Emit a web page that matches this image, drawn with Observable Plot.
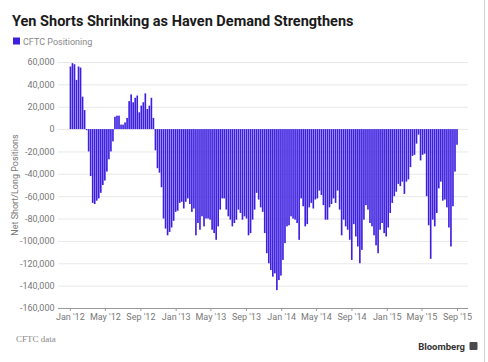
<!DOCTYPE html>
<html><head><meta charset="utf-8">
<script src="https://cdn.jsdelivr.net/npm/d3@7"></script>
<script src="https://cdn.jsdelivr.net/npm/@observablehq/plot@0.6"></script>
<style>
body{margin:0;background:#fff;}
#chart{position:relative;width:488px;height:362px;overflow:hidden;}
</style></head><body><div id="chart"></div>
<script>
// Weekly CFTC net yen positioning (thousands of contracts), first week 2012-01-03
const firstWeek = "2012-01-03";
const positions = [
  56, 59, 58, 44, 56, 55, 29, 17, -1, -20, -42, -66, -67, -64, -62, -57, -50, -46, -38, -27, -20, -11,
  11, 12, 12, 4, 4, 6, 10, 25, 31, 24, 28, 30, 15, 21, 24, 32, 18, 21, 28, 10,
  -19, -35, -39, -52, -80, -89, -95, -92, -88, -82, -74, -73, -66, -65, -71, -65, -62, -67, -74, -71, -95, -84,
  -90, -78, -87, -80, -80, -81, -90, -93, -99, -87, -72, -62, -62, -72, -78, -81, -87, -84, -81, -72, -75, -81, -78, -80, -95, -93, -81, -72, -57, -63, -70,
  -74, -93, -111, -120, -126, -132, -129, -144, -135, -131, -117, -102, -87, -86, -78, -80, -81, -84, -99, -62, -69, -87, -85, -70, -66, -71, -63, -62, -55, -59, -68, -81,
  -81, -70, -67, -62, -66, -55, -72, -95, -81, -87, -90, -99, -117, -85, -96, -105, -120, -108, -81, -68, -72, -84, -87, -95, -104, -111, -90, -84, -93, -96, -88, -75, -66,
  -60, -56, -49, -51, -47, -58, -47, -45, -34, -24, -23, -13, -5, -28, -23, -22, -60, -86, -116, -81, -87, -75, -53, -47, -64, -63, -70, -88, -105, -69, -38, -14
];
const yTicks = [60000, 40000, 20000, 0, -20000, -40000, -60000, -80000, -100000, -120000, -140000, -160000];
const xTicks = ["2012-01-01","2012-05-01","2012-09-01","2013-01-01","2013-05-01","2013-09-01",
                "2014-01-01","2014-05-01","2014-09-01","2015-01-01","2015-05-01","2015-09-01"];
const titleText = "Yen Shorts Shrinking as Haven Demand Strengthens";
const legendText = "CFTC Positioning";
const yLabel = "Net Short/Long Positions";
const sourceText = "CFTC data";
const brandText = "Bloomberg";

const barColor = "#3d1fe0";
const start = new Date(firstWeek + "T00:00:00Z");
const data = positions.map((v, i) => ({date: d3.utcDay.offset(start, 7 * i), value: v * 1000}));
const xTickDates = xTicks.map(s => new Date(s + "T00:00:00Z"));

const chart = Plot.plot({
  width: 488, height: 362,
  marginLeft: 58, marginRight: 20, marginTop: 62, marginBottom: 54,
  x: {type: "utc", domain: [new Date("2011-11-21T00:00:00Z"), new Date("2015-10-09T00:00:00Z")]},
  y: {domain: [-160000, 60000]},
  style: {fontFamily: "Roboto, 'Liberation Sans', sans-serif", fontSize: "9px", color: "#777", background: "#fff"},
  marks: [
    Plot.gridY(yTicks, {stroke: "#e8e8e8", strokeOpacity: 1}),
    Plot.rectY(data, {
      x1: d => d3.utcHour.offset(d.date, -68),
      x2: d => d3.utcHour.offset(d.date, 68),
      y: "value", fill: barColor, shapeRendering: "geometricPrecision"
    }),
    Plot.ruleY([-160000], {stroke: "#999"}),
    Plot.axisY(yTicks, {tickSize: 0, tickPadding: 4, tickFormat: d => d.toLocaleString("en-US"), label: null, fill: "#777"}),
    Plot.axisX(xTickDates, {tickSize: 3, tickPadding: 2, stroke: "#999", tickFormat: d3.utcFormat("%b '%y"), label: null, fill: "#777"})
  ]
});
document.getElementById("chart").appendChild(chart);

const svg = d3.select(chart);
svg.append("text").attr("x", 12).attr("y", 26).attr("text-anchor", "start")
  .style("font-family", "Roboto, sans-serif").style("font-weight", 700)
  .style("font-size", "14.5px").attr("fill", "#1a1a1a").text(titleText);
svg.append("rect").attr("x", 13).attr("y", 37.5).attr("width", 7).attr("height", 7).attr("fill", barColor);
svg.append("text").attr("x", 23).attr("y", 44.5).attr("text-anchor", "start")
  .style("font-family", "Roboto, sans-serif").style("font-size", "9px").attr("fill", "#888").text(legendText);
svg.append("text").attr("transform", "translate(18,185) rotate(-90)").attr("text-anchor", "middle")
  .style("font-family", "Roboto, sans-serif").style("font-size", "9px").attr("fill", "#777").text(yLabel);
svg.append("text").attr("x", 16).attr("y", 342).attr("text-anchor", "start")
  .style("font-family", "'Liberation Serif', serif").style("font-size", "9px").attr("fill", "#888").text(sourceText);
svg.append("text").attr("x", 465).attr("y", 350).attr("text-anchor", "end")
  .style("font-family", "Roboto, sans-serif").style("font-weight", 700).style("font-size", "9.5px").attr("fill", "#333").text(brandText);
svg.append("rect").attr("x", 469.5).attr("y", 342).attr("width", 8).attr("height", 8).attr("rx", 1).attr("fill", "#4a4a4a");
svg.append("line").attr("x1", 484.5).attr("x2", 484.5).attr("y1", 0).attr("y2", 362).attr("stroke", "#d4d4d4");
</script></body></html>
